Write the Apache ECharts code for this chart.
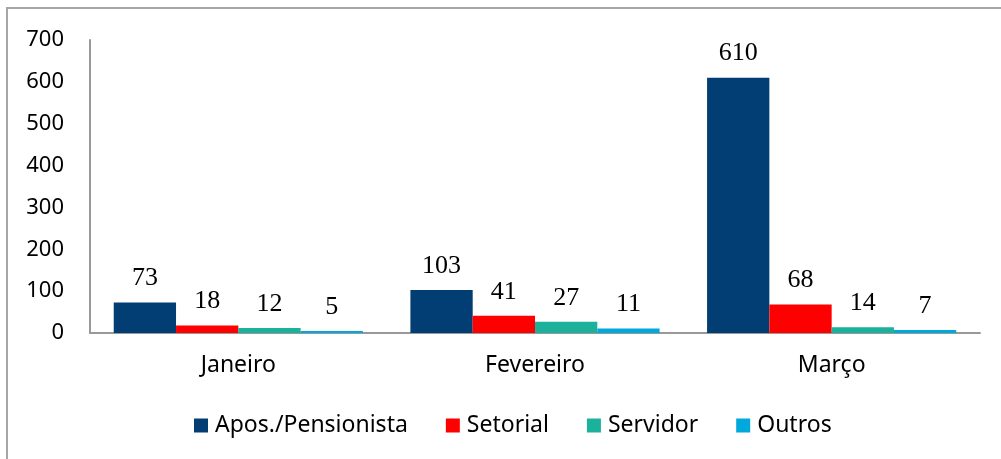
<!DOCTYPE html>
<html>
<head>
    <meta charset="utf-8">
    <title>Grafico</title>
    <script src="https://cdn.jsdelivr.net/npm/echarts@6/dist/echarts.min.js"></script>
    <style>
      html, body { margin:0; padding:0; background:#fff; }
    </style>
</head>
<body>
    <div id="main" style="width:1001px;height:459px;"></div>
    <script type="text/javascript">
        // dados
        var meses = ['Janeiro', 'Fevereiro', 'Março'];
        var nomes = ['Apos./Pensionista', 'Setorial', 'Servidor', 'Outros'];
        var apos = [73, 103, 610];
        var setorial = [18, 41, 68];
        var servidor = [12, 27, 14];
        var outros = [5, 11, 7];
        var cores = ['#023e73', '#ff0000', '#1cb19a', '#00a9dc'];

        var myChart = echarts.init(document.getElementById('main'));

        function serie(nome, dados, cor) {
          return {
            name: nome,
            type: 'bar',
            data: dados,
            barGap: '0%',
            barCategoryGap: '16%',
            itemStyle: { color: cor },
            label: {
              show: true,
              position: 'top',
              distance: 11,
              color: '#000',
              fontFamily: 'Liberation Serif',
              fontSize: 26
            }
          };
        }

        var option = {
          animation: false,
          graphic: [{
            type: 'rect',
            shape: { x: 7, y: 8, width: 1010, height: 470 },
            style: { fill: 'none', stroke: '#a6a6a6', lineWidth: 2 },
            silent: true
          }],
          grid: { left: 90, right: 21, top: 40, bottom: 126 },
          legend: {
            data: nomes,
            bottom: 17,
            left: 189,
            itemWidth: 14,
            itemHeight: 14,
            itemGap: 38,
            icon: 'rect',
            textStyle: { fontFamily: 'Noto Sans', fontSize: 23, color: '#000', padding: [0, 0, 0, 2] }
          },
          xAxis: {
            type: 'category',
            data: meses,
            axisLine: { lineStyle: { color: '#999', width: 2 } },
            axisTick: { show: false },
            axisLabel: { color: '#000', fontFamily: 'Noto Sans', fontSize: 23, margin: 21 }
          },
          yAxis: {
            type: 'value',
            min: 0,
            max: 700,
            interval: 100,
            axisLine: { show: true, lineStyle: { color: '#999', width: 2 } },
            axisTick: { show: false },
            splitLine: { show: false },
            axisLabel: { color: '#000', fontFamily: 'Noto Sans', fontSize: 22, margin: 26 }
          },
          series: [
            serie(nomes[0], apos, cores[0]),
            serie(nomes[1], setorial, cores[1]),
            serie(nomes[2], servidor, cores[2]),
            serie(nomes[3], outros, cores[3])
          ]
        };
        myChart.setOption(option);
    </script>
</body>
</html>
